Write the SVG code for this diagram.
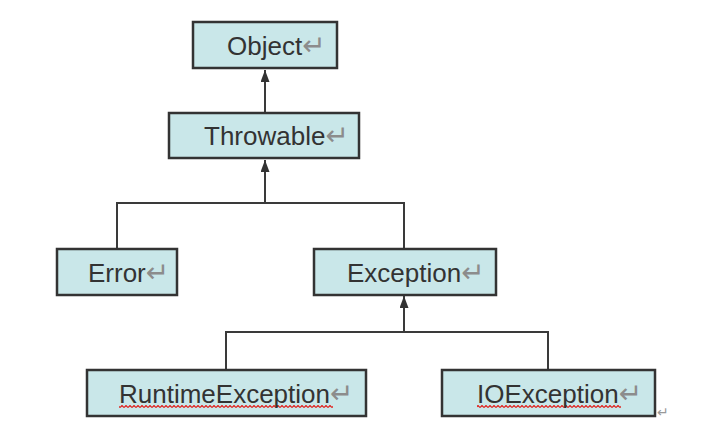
<svg xmlns="http://www.w3.org/2000/svg" width="705" height="444" viewBox="0 0 705 444">
<style>
.box{fill:#C9E7E9;stroke:#333;stroke-width:2.5}
.lbl{font-family:"Liberation Sans",Arial,sans-serif;font-size:26px;fill:#333}
.pm{font-family:"DejaVu Sans",sans-serif;font-size:28px;fill:#8c8c8c}
.conn{fill:none;stroke:#3a3a3a;stroke-width:2}
</style>
<defs>
<marker id="arr" markerUnits="userSpaceOnUse" markerWidth="10" markerHeight="14" refX="12" refY="4.5" orient="auto">
<path d="M0,0 L12,4.5 L0,9 Z" fill="#333"/>
</marker>
<pattern id="wave" patternUnits="userSpaceOnUse" width="4" height="3">
<polyline points="0,2.5 2,0.5 4,2.5" fill="none" stroke="#e0201c" stroke-width="1.2"/>
</pattern>
</defs>
<rect width="705" height="444" fill="#fff"/>
<g id="connectors">
<line class="conn" x1="265" y1="112" x2="265" y2="70" marker-end="url(#arr)"/>
<polyline class="conn" points="117,249 117,203 404,203 404,249"/>
<line class="conn" x1="265" y1="203" x2="265" y2="160" marker-end="url(#arr)"/>
<polyline class="conn" points="226,370 226,332 548,332 548,370"/>
<line class="conn" x1="404" y1="332" x2="404" y2="296" marker-end="url(#arr)"/>
</g>
<g id="object">
<rect class="box" x="193" y="22" width="144" height="46"/>
<text class="lbl" x="227" y="55">Object<tspan class="pm">↵</tspan></text>
</g>
<g id="throwable">
<rect class="box" x="169" y="113" width="190" height="45"/>
<text class="lbl" x="204" y="145">Throwable<tspan class="pm">↵</tspan></text>
</g>
<g id="error">
<rect class="box" x="57" y="249" width="120" height="46"/>
<text class="lbl" x="88" y="282">Error<tspan class="pm">↵</tspan></text>
</g>
<g id="exception">
<rect class="box" x="314" y="249" width="182" height="46"/>
<text class="lbl" x="347" y="282">Exception<tspan class="pm">↵</tspan></text>
</g>
<g id="runtimeexception">
<rect class="box" x="87" y="370" width="279" height="46"/>
<rect x="119" y="405" width="214" height="3" fill="url(#wave)"/>
<text class="lbl" x="119" y="403">RuntimeException<tspan class="pm">↵</tspan></text>
</g>
<g id="ioexception">
<rect class="box" x="442" y="370" width="213" height="46"/>
<rect x="477" y="405" width="144" height="3" fill="url(#wave)"/>
<text class="lbl" x="477" y="403">IOException<tspan class="pm">↵</tspan></text>
</g>
<text x="657" y="417" style="font-family:'DejaVu Sans',sans-serif;font-size:14px;fill:#999">↵</text>
</svg>
